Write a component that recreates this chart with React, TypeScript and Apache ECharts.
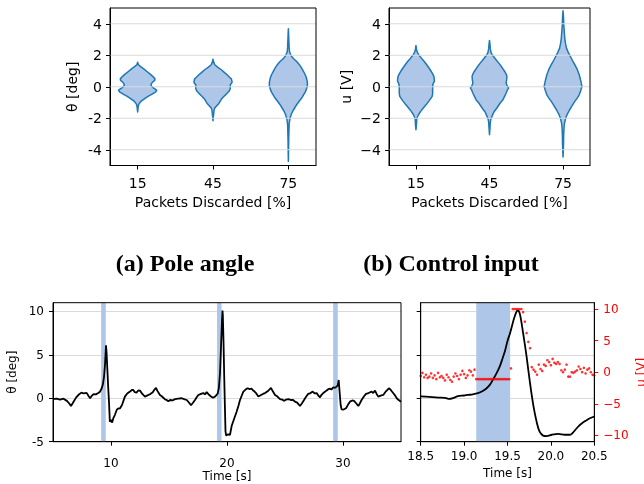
import React, { useEffect, useRef } from 'react';
import * as echarts from 'echarts';

// ---------- data ----------
const packetPositions = [15, 45, 75];
const violinYTicks = [-4, -2, 0, 2, 4];

// violin outlines: [value, half-width in x-axis units], from top to bottom
const thetaViolin15 = [[1.55,0],[1.4,0.3],[1.29,1.1],[1.15,2.3],[0.97,3.7],[0.8,5.0],[0.66,6.0],[0.5,6.9],[0.4,6.8],[0.3,6.0],[0.2,5.5],[0.13,5.3],[0.05,5.5],[-0.04,6.0],[-0.15,7.0],[-0.23,7.6],[-0.32,7.2],[-0.4,6.4],[-0.5,5.4],[-0.6,4.3],[-0.75,2.8],[-0.93,1.3],[-1.05,0.7],[-1.14,0.4],[-1.3,0.2],[-1.6,0]];
const thetaViolin45 = [[1.75,0],[1.55,0.3],[1.4,0.7],[1.25,1.8],[1.08,3.3],[0.9,4.6],[0.76,5.6],[0.6,6.6],[0.5,7.3],[0.3,7.6],[0.2,7.3],[0.13,6.9],[0.0,6.8],[-0.08,6.9],[-0.2,6.7],[-0.3,6.3],[-0.45,5.4],[-0.6,4.4],[-0.8,3.3],[-1.04,2.4],[-1.2,1.5],[-1.35,0.7],[-1.5,0.4],[-1.67,0.3],[-1.9,0.15],[-2.16,0]];
const thetaViolin75 = [[3.68,0],[3.1,0.15],[2.5,0.3],[2.24,0.45],[2.05,0.9],[1.92,1.3],[1.75,2.3],[1.6,3.3],[1.4,4.4],[1.18,5.3],[0.95,6.1],[0.76,6.7],[0.55,7.2],[0.34,7.5],[0.15,7.6],[0.02,7.5],[-0.15,7.2],[-0.34,6.7],[-0.5,6.1],[-0.72,5.3],[-0.92,4.3],[-1.14,3.3],[-1.35,2.5],[-1.56,1.7],[-1.78,1.1],[-1.99,0.7],[-2.2,0.45],[-2.4,0.3],[-3.26,0.15],[-4.74,0]];
const uViolin15 = [[2.62,0],[2.4,0.2],[2.24,0.4],[2.03,1.1],[1.8,2.3],[1.6,3.4],[1.35,4.6],[1.08,5.8],[0.85,6.7],[0.66,7.3],[0.45,7.5],[0.34,7.5],[0.2,7.0],[0.02,6.8],[-0.15,6.8],[-0.3,6.8],[-0.45,6.8],[-0.61,6.6],[-0.75,6.0],[-0.93,5.2],[-1.15,4.1],[-1.35,3.0],[-1.55,2.0],[-1.78,1.0],[-1.95,0.5],[-2.09,0.3],[-2.4,0.2],[-2.73,0]];
const uViolin45 = [[2.94,0],[2.7,0.2],[2.45,0.3],[2.2,0.6],[2.03,1.1],[1.75,2.5],[1.5,3.8],[1.25,5.0],[0.97,6.2],[0.8,6.8],[0.66,7.1],[0.45,7.0],[0.23,6.8],[0.05,7.2],[-0.08,7.8],[-0.2,7.3],[-0.4,6.8],[-0.6,6.2],[-0.82,5.5],[-1.05,4.3],[-1.35,3.0],[-1.6,1.8],[-1.88,1.0],[-2.1,0.5],[-2.3,0.3],[-2.6,0.2],[-3.04,0]];
const uViolin75 = [[4.82,0],[4.4,0.2],[3.93,0.3],[3.5,0.5],[3.09,0.7],[2.75,1.0],[2.45,1.4],[2.2,2.1],[1.92,3.0],[1.65,3.9],[1.4,4.8],[1.1,5.8],[0.76,6.6],[0.4,7.2],[0.02,7.7],[-0.25,7.2],[-0.51,6.6],[-0.72,5.8],[-0.93,4.8],[-1.2,3.7],[-1.46,2.7],[-1.72,1.8],[-1.99,1.1],[-2.3,0.6],[-2.62,0.4],[-3.1,0.25],[-3.68,0.2],[-4.46,0]];

// pole angle time series [t (s), theta (deg)]
const poleAngle = [
  [5.0,-0.1],[5.3,-0.05],[5.6,-0.15],[5.9,-0.05],[6.2,-0.3],[6.4,-0.6],[6.55,-0.9],[6.75,-0.45],[7.0,0.1],[7.2,0.4],[7.45,0.65],[7.65,0.55],[7.9,0.62],[8.05,0.3],[8.2,0.0],[8.35,0.3],[8.5,0.48],[8.7,0.45],[8.9,0.6],[9.05,0.75],[9.2,1.15],[9.3,1.6],[9.4,2.5],[9.48,3.8],[9.57,6.1],[9.62,5.2],[9.68,3.5],[9.76,1.2],[9.83,-0.5],[9.9,-2.7],[10.0,-2.5],[10.1,-2.8],[10.2,-2.3],[10.34,-1.9],[10.49,-1.35],[10.6,-1.2],[10.78,-1.15],[10.9,-0.9],[11.0,-0.58],[11.2,0.19],[11.4,0.55],[11.64,0.77],[11.8,0.95],[11.92,0.96],[12.05,0.7],[12.2,0.65],[12.35,0.9],[12.5,0.88],[12.7,0.5],[12.93,0.19],[13.1,0.3],[13.36,0.46],[13.6,0.7],[13.75,1.0],[13.88,1.2],[14.0,0.85],[14.22,0.38],[14.4,0.2],[14.66,-0.12],[14.8,-0.2],[14.94,-0.35],[15.1,-0.2],[15.3,-0.25],[15.52,-0.1],[15.8,-0.05],[16.1,0.0],[16.3,-0.1],[16.53,-0.2],[16.75,-0.55],[16.9,-0.8],[17.05,-0.55],[17.24,-0.2],[17.4,0.15],[17.53,0.38],[17.75,0.5],[17.96,0.6],[18.1,0.45],[18.25,0.7],[18.45,0.4],[18.62,0.2],[18.8,0.05],[18.97,0.2],[19.05,0.3],[19.2,0.55],[19.3,1.2],[19.4,3.0],[19.5,6.5],[19.57,9.0],[19.61,10.1],[19.64,9.6],[19.7,6.5],[19.76,2.5],[19.82,-1.0],[19.87,-3.8],[19.93,-4.3],[20.1,-4.15],[20.26,-4.2],[20.4,-3.2],[20.63,-2.3],[20.83,-1.55],[21.0,-0.8],[21.12,-0.2],[21.3,0.4],[21.41,0.77],[21.6,1.0],[21.78,1.15],[21.95,1.05],[22.13,1.1],[22.25,0.9],[22.36,0.8],[22.5,0.6],[22.7,0.2],[22.9,0.35],[23.1,0.5],[23.28,0.6],[23.5,0.8],[23.65,1.0],[23.79,1.2],[23.95,0.8],[24.14,0.38],[24.35,0.2],[24.57,-0.1],[24.75,-0.15],[24.94,-0.3],[25.1,-0.15],[25.29,-0.1],[25.5,-0.2],[25.7,-0.2],[25.86,-0.39],[26.05,-0.5],[26.29,-0.89],[26.45,-0.6],[26.64,-0.2],[26.8,0.15],[27.0,0.5],[27.2,0.6],[27.39,0.77],[27.55,0.55],[27.73,0.6],[27.88,0.3],[28.02,0.1],[28.15,0.4],[28.3,0.6],[28.5,0.8],[28.73,1.04],[28.9,1.1],[29.0,1.0],[29.16,1.27],[29.3,1.2],[29.45,1.34],[29.55,1.5],[29.63,2.1],[29.68,1.2],[29.74,0.19],[29.8,-0.8],[29.88,-1.27],[30.05,-1.3],[30.26,-1.15],[30.45,-0.7],[30.6,-0.39],[30.8,-0.25],[30.95,-0.3],[31.15,-0.6],[31.32,-0.9],[31.45,-0.6],[31.6,-0.2],[31.8,0.2],[31.98,0.5],[32.2,0.6],[32.47,0.77],[32.6,0.6],[32.76,0.88],[32.9,0.5],[33.04,0.19],[33.25,0.3],[33.47,0.38],[33.7,0.8],[33.85,1.0],[33.99,1.15],[34.15,0.9],[34.34,0.58],[34.5,0.3],[34.63,0.0],[34.8,-0.2],[35.0,-0.4]
];

// zoomed pole angle [t, theta]
const poleAngleZoom = [
  [18.5,0.22],[18.6,0.15],[18.7,0.08],[18.78,0.05],[18.83,-0.08],[18.88,0.05],[18.93,0.25],[19.0,0.32],[19.04,0.38],[19.1,0.45],[19.16,0.58],[19.21,0.8],[19.26,1.15],[19.3,1.6],[19.33,2.1],[19.37,2.8],[19.41,3.64],[19.44,4.5],[19.47,5.4],[19.5,6.6],[19.53,7.5],[19.57,9.0],[19.6,9.9],[19.62,10.1],[19.645,9.6],[19.68,7.5],[19.72,4.8],[19.76,1.7],[19.8,-0.97],[19.84,-2.9],[19.87,-3.85],[19.91,-4.3],[19.95,-4.35],[20.01,-4.2],[20.085,-4.1],[20.16,-4.2],[20.22,-4.2],[20.25,-4.0],[20.28,-3.65],[20.32,-3.2],[20.355,-2.9],[20.4,-2.6],[20.45,-2.3],[20.5,-2.1]
];

// control input samples [t, u (V)]
const controlInput = [
  [18.50,-0.6],[18.52,-0.1],[18.54,-0.8],[18.56,-0.4],[18.58,-0.9],[18.60,-0.7],[18.62,-0.2],[18.64,-0.9],[18.66,-0.5],[18.68,-1.1],[18.70,-0.1],[18.72,-0.8],[18.74,-0.6],[18.76,-0.9],[18.78,-1.3],[18.80,-0.4],[18.82,-0.8],[18.84,-1.2],[18.86,-1.5],[18.88,-0.7],[18.90,-0.2],[18.92,-0.6],[18.94,-1.1],[18.96,-0.4],[18.98,0.2],[19.00,-0.3],[19.02,-0.9],[19.04,-0.5],[19.06,0.3],[19.08,0.1],[19.10,-0.5],[19.12,0.4],
  [19.14,-1.1],[19.16,-1.1],[19.18,-1.1],[19.20,-1.1],[19.22,-1.1],[19.24,-1.1],[19.26,-1.1],[19.28,-1.1],[19.30,-1.1],[19.32,-1.1],[19.34,-1.1],[19.36,-1.1],[19.38,-1.1],[19.40,-1.1],[19.42,-1.1],[19.44,-1.1],[19.46,-1.1],[19.48,-1.1],[19.50,-1.1],[19.52,-1.1],
  [19.54,0.6],[19.56,10],[19.58,10],[19.60,10],[19.62,10],[19.64,10],[19.66,10],[19.68,9.5],[19.70,8.0],[19.72,6.2],[19.74,4.8],[19.76,3.8],[19.78,0.8],[19.80,0.4],[19.82,0.1],[19.84,-0.4],[19.86,1.2],[19.88,0.5],[19.90,0.2],[19.92,1.2],[19.94,1.0],[19.96,1.9],[19.98,1.6],[20.00,1.1],[20.02,2.1],[20.04,1.5],[20.06,1.3],[20.08,1.6],[20.10,1.3],[20.12,0.3],[20.14,0.0],[20.16,0.4],[20.18,1.2],[20.20,-0.7],[20.22,-0.7],[20.24,0.0],[20.26,-0.1],[20.28,0.1],[20.30,0.3],[20.32,0.9],[20.34,0.5],[20.36,0.0],[20.38,0.7],[20.40,-0.2],[20.42,0.4],[20.44,0.6],[20.46,0.0],[20.48,-0.4],[20.50,-0.5]
];

// packet-loss bursts [start, end] in s
const dropBursts = [[9.15, 9.55], [19.14, 19.53], [29.15, 29.55]];
const zoomBursts = [[19.14, 19.53]];

const timeTicks = [10, 20, 30];
const thetaTimeTicks = [-5, 0, 5, 10];
const uZoomTicks = [-10, -5, 0, 5, 10];

const BAND = '#aec7e8';
const EDGE = '#1f77b4';
const GRIDC = '#dadada';

const violinSeries = (profiles: number[][][], xi: number) => ({
  type: 'custom',
  xAxisIndex: xi,
  yAxisIndex: xi,
  z: 2,
  clip: false,
  data: packetPositions.map((p, i) => [p, 0, i]),
  renderItem: (params: any, api: any) => {
    const i = api.value(2);
    const cx = packetPositions[i];
    const prof = profiles[i];
    const right = prof.map(([y, w]) => api.coord([cx + w, y]));
    const left = prof.slice().reverse().map(([y, w]) => api.coord([cx - w, y]));
    return {
      type: 'polygon',
      shape: { points: right.concat(left) },
      style: { fill: BAND, stroke: EDGE, lineWidth: 1.5, lineJoin: 'round' },
    };
  },
});

const hGridSeries = (xi: number) => ({
  type: 'custom',
  xAxisIndex: xi,
  yAxisIndex: xi,
  z: 3,
  silent: true,
  data: violinYTicks.map((v) => [50, v]),
  renderItem: (params: any, api: any) => {
    const cs = params.coordSys;
    const y = api.coord([50, api.value(1)])[1];
    return {
      type: 'line',
      shape: { x1: cs.x, y1: y, x2: cs.x + cs.width, y2: y },
      style: { stroke: GRIDC, lineWidth: 1.2 },
    };
  },
});

const bandSeries = (bursts: number[][], xi: number, yi: number) => ({
  type: 'custom',
  xAxisIndex: xi,
  yAxisIndex: yi,
  z: 1,
  silent: true,
  data: bursts.map((b) => [b[0], b[1]]),
  renderItem: (params: any, api: any) => {
    const cs = params.coordSys;
    const x1 = api.coord([api.value(0), 0])[0];
    const x2 = api.coord([api.value(1), 0])[0];
    return {
      type: 'rect',
      shape: { x: x1, y: cs.y, width: x2 - x1, height: cs.height },
      style: { fill: BAND },
    };
  },
});

const FONT = 'DejaVu Sans';
const minus = (v: number) => String(v).replace('-', '\u2212');
const spine = { show: true, onZero: false, lineStyle: { color: '#000', width: 1 } };

export default function App() {
  const ref = useRef<HTMLDivElement>(null);
  useEffect(() => {
    if (!ref.current) return;
    const chart = echarts.init(ref.current, undefined, { renderer: 'svg' });
    const gridBase = {
      show: true, borderColor: '#000', borderWidth: 1, backgroundColor: 'transparent', z: 6,
      containLabel: false, outerBoundsMode: 'none',
    };
    const tick = (vals: number[], color = '#000') => ({
      show: true, customValues: vals, length: 4, inside: false, lineStyle: { color, width: 1 },
    });
    const option: any = {
      animation: false,
      textStyle: { fontFamily: FONT },
      grid: [
        { ...gridBase, left: 110, top: 8, width: 206, height: 157.5 },
        { ...gridBase, left: 389, top: 8, width: 201, height: 157.5 },
        { ...gridBase, left: 53, top: 302.7, width: 348, height: 139 },
        { ...gridBase, left: 420.7, top: 302.7, width: 173.6, height: 139 },
      ],
      xAxis: [
        {
          gridIndex: 0, type: 'value', min: 4, max: 86, position: 'bottom',
          axisLine: spine, splitLine: { show: false },
          axisTick: tick(packetPositions),
          axisLabel: { customValues: packetPositions, color: '#000', fontSize: 14, margin: 10, fontFamily: FONT },
          name: 'Packets Discarded [%]', nameLocation: 'middle', nameGap: 29,
          nameTextStyle: { color: '#000', fontSize: 14, fontFamily: FONT },
        },
        {
          gridIndex: 1, type: 'value', min: 4, max: 86, position: 'bottom',
          axisLine: spine, splitLine: { show: false },
          axisTick: tick(packetPositions),
          axisLabel: { customValues: packetPositions, color: '#000', fontSize: 14, margin: 10, fontFamily: FONT },
          name: 'Packets Discarded [%]', nameLocation: 'middle', nameGap: 29,
          nameTextStyle: { color: '#000', fontSize: 14, fontFamily: FONT },
        },
        {
          gridIndex: 2, type: 'value', min: 5, max: 35, position: 'bottom',
          axisLine: spine, splitLine: { show: false },
          axisTick: tick(timeTicks),
          axisLabel: { customValues: timeTicks, color: '#000', fontSize: 12, margin: 15, fontFamily: FONT },
          name: 'Time [s]', nameLocation: 'middle', nameGap: 25,
          nameTextStyle: { color: '#000', fontSize: 12, fontFamily: FONT },
        },
        {
          gridIndex: 3, type: 'value', min: 18.5, max: 20.5, interval: 0.5, position: 'bottom',
          axisLine: spine, splitLine: { show: false },
          axisTick: { show: true, length: 4, lineStyle: { color: '#000', width: 1 } },
          axisLabel: { color: '#000', fontSize: 12, margin: 8, fontFamily: FONT, formatter: (v: number) => v.toFixed(1) },
          name: 'Time [s]', nameLocation: 'middle', nameGap: 25,
          nameTextStyle: { color: '#000', fontSize: 12, fontFamily: FONT },
        },
      ],
      yAxis: [
        {
          gridIndex: 0, type: 'value', min: -5, max: 5, position: 'left',
          axisLine: spine, splitLine: { show: false },
          axisTick: tick(violinYTicks),
          axisLabel: { customValues: violinYTicks, color: '#000', fontSize: 14, margin: 8, fontFamily: FONT, formatter: (v: number) => String(v) },
          name: 'θ [deg]', nameLocation: 'middle', nameGap: 31, nameRotate: 90,
          nameTextStyle: { color: '#000', fontSize: 14, fontFamily: FONT },
        },
        {
          gridIndex: 1, type: 'value', min: -5, max: 5, position: 'left',
          axisLine: spine, splitLine: { show: false },
          axisTick: tick(violinYTicks),
          axisLabel: { customValues: violinYTicks, color: '#000', fontSize: 14, margin: 8, fontFamily: FONT, formatter: minus },
          name: 'u [V]', nameLocation: 'middle', nameGap: 36, nameRotate: 90,
          nameTextStyle: { color: '#000', fontSize: 14, fontFamily: FONT },
        },
        {
          gridIndex: 2, type: 'value', min: -5, max: 11, interval: 5, position: 'left',
          axisLine: spine,
          splitLine: { show: true, lineStyle: { color: GRIDC, width: 1.2 } },
          axisTick: tick(thetaTimeTicks),
          axisLabel: { customValues: thetaTimeTicks, color: '#000', fontSize: 12, margin: 9, fontFamily: FONT, formatter: (v: number) => String(v) },
          name: 'θ [deg]', nameLocation: 'middle', nameGap: 31, nameRotate: 90,
          nameTextStyle: { color: '#000', fontSize: 12, fontFamily: FONT },
        },
        {
          gridIndex: 3, type: 'value', min: -5, max: 11, interval: 5, position: 'left',
          axisLine: spine,
          splitLine: { show: true, lineStyle: { color: GRIDC, width: 1.2 } },
          axisTick: tick(thetaTimeTicks),
          axisLabel: { show: false, customValues: thetaTimeTicks },
        },
        {
          gridIndex: 3, type: 'value', position: 'right', min: -11, max: 11,
          axisLine: spine, splitLine: { show: false },
          axisTick: tick(uZoomTicks, '#ff0000'),
          axisLabel: { customValues: uZoomTicks, color: '#ff0000', fontSize: 12, margin: 9, fontFamily: FONT, formatter: minus },
          name: 'u [V]', nameLocation: 'middle', nameGap: 41, nameRotate: 90,
          nameTextStyle: { color: '#ff0000', fontSize: 12, fontFamily: FONT },
        },
      ],
      series: [
        violinSeries([thetaViolin15, thetaViolin45, thetaViolin75], 0),
        hGridSeries(0),
        violinSeries([uViolin15, uViolin45, uViolin75], 1),
        hGridSeries(1),
        bandSeries(dropBursts, 2, 2),
        {
          type: 'line', xAxisIndex: 2, yAxisIndex: 2, z: 4, data: poleAngle,
          showSymbol: false, lineStyle: { color: '#000', width: 1.8 }, silent: true,
        },
        bandSeries(zoomBursts, 3, 3),
        {
          type: 'line', xAxisIndex: 3, yAxisIndex: 3, z: 4, data: poleAngleZoom, smooth: 0.3,
          showSymbol: false, lineStyle: { color: '#000', width: 1.8 }, silent: true,
        },
        {
          type: 'scatter', xAxisIndex: 3, yAxisIndex: 4, z: 5, data: controlInput,
          symbol: 'circle', symbolSize: 2.6, itemStyle: { color: '#ff0000' }, silent: true,
        },
      ],
      graphic: [
        { type: 'text', x: 185, y: 263, style: { text: '(a) Pole angle', font: 'bold 24px "Liberation Serif"', fill: '#000', align: 'center', verticalAlign: 'middle' } },
        { type: 'text', x: 451, y: 263, style: { text: '(b) Control input', font: 'bold 24px "Liberation Serif"', fill: '#000', align: 'center', verticalAlign: 'middle' } },
      ],
    };
    chart.setOption(option);
    return () => chart.dispose();
  }, []);
  return <div ref={ref} style={{ position: 'fixed', left: 0, top: 0, width: 644, height: 484 }} />;
}
